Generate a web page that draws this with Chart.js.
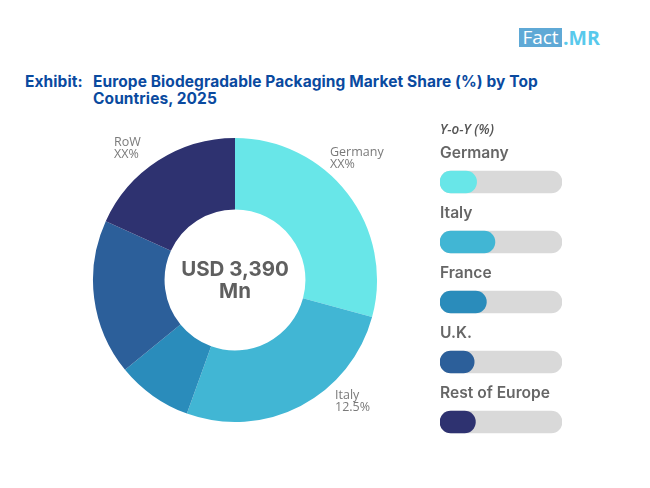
<!DOCTYPE html>
<html>
<head>
<meta charset="utf-8">
<script src="https://cdn.jsdelivr.net/npm/chart.js@4"></script>
<style>
  html, body { margin: 0; padding: 0; background: #fff; }
  body { width: 650px; height: 488px; position: relative; overflow: hidden; font-family: Inter, sans-serif; }
  canvas { position: absolute; }
  .txt { position: absolute; white-space: nowrap; }
  .title { color: #0a4a9f; font: 700 15.5px/17px Inter, sans-serif; letter-spacing: 0.08px; }
  .slice-label { color: #7a7a7a; font: 400 12.5px/12px "Open Sans", sans-serif; }
  .centre { left: 165px; width: 140px; top: 258px; text-align: center; color: #5f5f5f; font: 700 20.5px/22px Inter, sans-serif; }
  .yoy { left: 440px; top: 121px; color: #555; font: italic 600 13.5px/16px "Open Sans", sans-serif; }
  .logo { left: 519px; top: 28px; height: 19px; width: 43px; background: #5fa9d6; color: #fff; font: 400 19px/19px "Open Sans", sans-serif; text-align: center; }
  .logo-mr { left: 563px; top: 28px; color: #58c9ec; font: 700 19.5px/19px "Open Sans", sans-serif; }
</style>
</head>
<body>
<div class="txt logo">Fact</div>
<div class="txt logo-mr">.MR</div>
<div class="txt title" style="left:25px;top:73px">Exhibit:</div>
<div class="txt title" style="left:93px;top:73px">Europe Biodegradable Packaging Market Share (%) by Top<br>Countries, 2025</div>

<canvas id="shareChart" width="286" height="286" style="left:92px;top:137px;width:286px;height:286px"></canvas>
<div class="txt centre">USD 3,390<br>Mn</div>
<div class="txt slice-label" style="left:330px;top:146px">Germany<br>XX%</div>
<div class="txt slice-label" style="left:335px;top:389px">Italy<br>12.5%</div>
<div class="txt slice-label" style="left:114px;top:136px">RoW<br>XX%</div>

<div class="txt yoy">Y-o-Y (%)</div>
<canvas id="yoyChart" width="130" height="320" style="left:436px;top:132px;width:130px;height:320px"></canvas>

<script>
const shareLabels = ['Germany', 'Italy', 'France', 'U.K.', 'RoW'];
const shareValues = [29.2, 26.3, 8.6, 17.7, 18.2];

const yoyLabels = ['Germany', 'Italy', 'France', 'U.K.', 'Rest of Europe'];
const yoyValues = [30, 45, 38, 28, 29];
const yoyTrack = [100, 100, 100, 100, 100];

const colors = ['#68e6e8', '#41b6d4', '#2a8cbb', '#2c5f9a', '#2e3270'];

new Chart(document.getElementById('shareChart'), {
  type: 'doughnut',
  data: {
    labels: shareLabels,
    datasets: [{ data: shareValues, backgroundColor: colors, borderWidth: 0 }]
  },
  options: {
    responsive: false,
    animation: false,
    cutout: '49.6%',
    layout: { padding: 1 },
    plugins: { legend: { display: false }, tooltip: { enabled: false } }
  }
});

// row names sit above each pill
const rowLabels = {
  id: 'rowLabels',
  afterDatasetsDraw(chart) {
    const { ctx } = chart;
    ctx.save();
    ctx.font = '600 15.6px Inter, sans-serif';
    ctx.fillStyle = '#666666';
    ctx.textBaseline = 'middle';
    chart.data.labels.forEach((label, i) => {
      ctx.fillText(label, chart.scales.x.left, chart.scales.y.getPixelForValue(i) - 29);
    });
    ctx.restore();
  }
};

new Chart(document.getElementById('yoyChart'), {
  type: 'bar',
  data: {
    labels: yoyLabels,
    datasets: [
      { data: yoyValues, backgroundColor: colors, grouped: false, barThickness: 22, borderRadius: 11, borderSkipped: false },
      { data: yoyTrack, backgroundColor: '#d9d9d9', grouped: false, barThickness: 22, borderRadius: 11, borderSkipped: false }
    ]
  },
  options: {
    indexAxis: 'y',
    responsive: false,
    animation: false,
    layout: { padding: { left: 4, right: 4, top: 20, bottom: 0 } },
    scales: {
      x: { display: false, min: 0, max: 100 },
      y: { display: false }
    },
    plugins: { legend: { display: false }, tooltip: { enabled: false } }
  },
  plugins: [rowLabels]
});
</script>
</body>
</html>
